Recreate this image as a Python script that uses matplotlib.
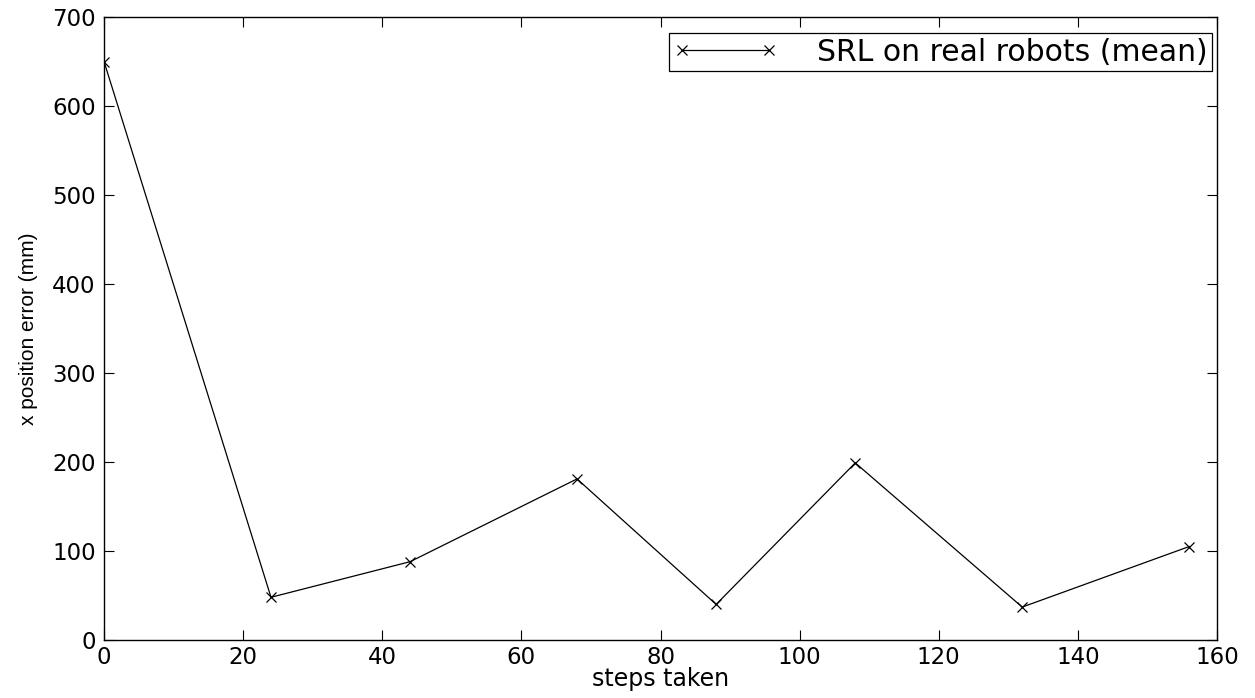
import numpy as np
import matplotlib.pyplot as plt

plt.rcParams['font.family'] = ['DejaVu Sans']

# data
steps = [0, 24, 44, 68, 88, 108, 132, 156]
x_error = [650, 48, 88, 181, 40, 199, 37, 105]
x_ticks = [0, 20, 40, 60, 80, 100, 120, 140, 160]
y_ticks = [0, 100, 200, 300, 400, 500, 600, 700]

fig = plt.figure(figsize=(12.55, 6.98), dpi=100)
ax = fig.add_axes([0.0829, 0.0831, 0.8868, 0.8925])

ax.plot(steps, x_error, color='black', linewidth=0.9, marker='x',
        markersize=7, markeredgewidth=0.9, label='SRL on real robots (mean)')

ax.set_xlim(0, 160)
ax.set_ylim(0, 700)
ax.set_xticks(x_ticks)
ax.set_yticks(y_ticks)
ax.tick_params(direction='in', length=7, width=0.8, top=True, right=True,
               labelsize=16.5)
ax.tick_params(axis='x', pad=4)
ax.tick_params(axis='y', pad=6)
for s in ax.spines.values():
    s.set_linewidth(1.0)

ax.set_xlabel('steps taken', fontsize=17, labelpad=-1)
ax.set_ylabel('x position error (mm)', fontsize=15, labelpad=10,
              family=['Liberation Sans', 'DejaVu Sans'])

leg = ax.legend(loc='upper right', bbox_to_anchor=(0.9955, 0.9743),
                borderaxespad=0, fontsize=21.5, numpoints=2,
                handlelength=3.5, handletextpad=1.3,
                fancybox=False, framealpha=1, edgecolor='black',
                borderpad=0.15)
leg.get_frame().set_linewidth(0.9)

fig.savefig('out.png', dpi=100)
